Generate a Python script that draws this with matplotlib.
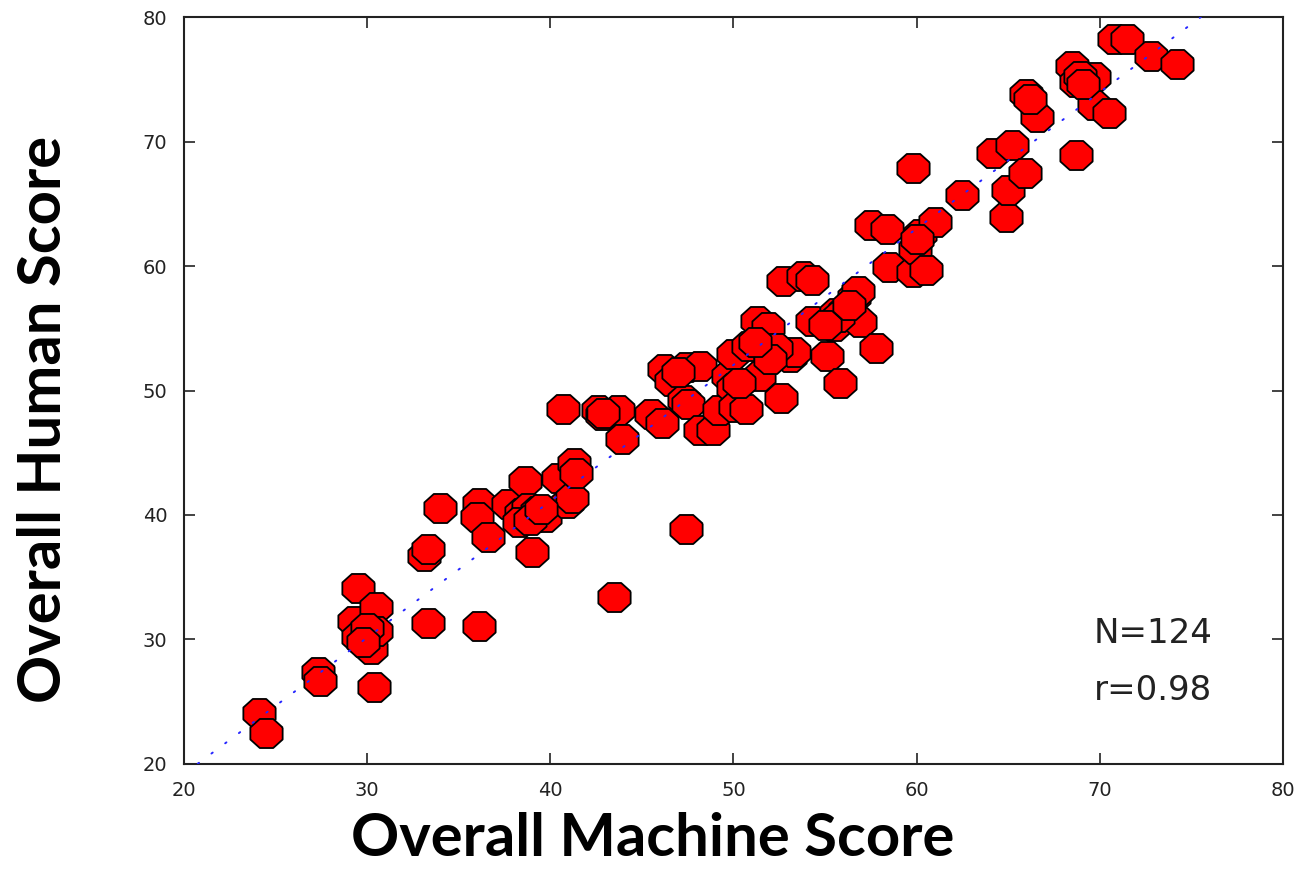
import numpy as np
import matplotlib
matplotlib.use("Agg")
import matplotlib.pyplot as plt

machine_score = [
    24.1, 24.5, 27.3, 27.4, 29.5, 29.3, 29.5, 30.2, 30.5, 30.5,
    30.4, 33.1, 33.3, 33.3, 34.0, 36.1, 36.1, 36.0, 36.6, 37.7,
    38.6, 39.0, 38.4, 38.8, 39.1, 39.7, 38.3, 40.7, 40.4, 40.9,
    41.2, 41.3, 41.4, 42.6, 42.8, 43.7, 43.9, 43.5, 45.5, 46.1,
    46.2, 46.6, 47.4, 47.3, 47.5, 48.2, 47.4, 48.2, 48.9, 49.2,
    49.7, 50.0, 50.0, 50.1, 50.7, 50.8, 51.3, 51.4, 51.6, 51.9,
    52.0, 52.6, 52.7, 53.1, 53.3, 53.8, 54.3, 54.3, 55.1, 55.3,
    55.6, 55.8, 55.5, 56.1, 56.6, 56.8, 56.9, 57.8, 57.5, 58.4,
    58.5, 59.8, 59.8, 59.9, 60.2, 60.5, 61.0, 62.5, 64.2, 64.9,
    65.2, 65.0, 65.9, 66.0, 66.6, 68.5, 68.7, 68.7, 69.4, 69.7,
    69.7, 70.5, 70.8, 71.5, 72.8, 74.2, 39.3, 38.9, 39.5, 52.3,
    52.0, 51.2, 55.7, 55.0, 56.3, 68.9, 69.1, 47.0, 42.9, 30.0,
    29.8, 60.0, 50.3, 66.2,
]
human_score = [
    24.1, 22.5, 27.4, 26.7, 34.1, 31.5, 30.2, 29.2, 32.6, 30.7,
    26.2, 36.7, 37.3, 31.3, 40.6, 31.1, 41.0, 39.8, 38.2, 40.9,
    42.7, 37.0, 40.2, 40.6, 39.8, 39.8, 39.4, 48.5, 43.0, 41.0,
    41.4, 44.2, 43.4, 48.4, 48.0, 48.4, 46.1, 33.4, 48.1, 47.4,
    51.7, 50.8, 51.9, 49.2, 48.9, 52.0, 38.9, 46.8, 46.8, 48.4,
    51.2, 52.9, 50.2, 48.7, 48.5, 53.6, 55.6, 51.2, 54.1, 55.1,
    53.0, 49.4, 58.8, 52.7, 53.1, 59.2, 58.9, 55.6, 52.8, 55.6,
    56.2, 50.6, 55.2, 56.5, 57.5, 58.0, 55.5, 53.4, 63.3, 63.0,
    59.9, 67.9, 59.5, 61.4, 62.6, 59.7, 63.5, 65.7, 69.1, 63.9,
    69.7, 66.1, 67.5, 73.8, 72.0, 76.1, 68.9, 74.8, 75.0, 75.2,
    72.9, 72.3, 78.2, 78.2, 76.9, 76.2, 40.3, 39.6, 40.5, 53.4,
    52.5, 53.9, 55.9, 55.3, 56.9, 75.3, 74.6, 51.5, 48.2, 30.9,
    29.8, 62.2, 50.6, 73.4,
]
fit_x = [20.0, 80.0]
fit_y = [19.2, 84.9]
x_ticks = [20, 30, 40, 50, 60, 70, 80]
y_ticks = [20, 30, 40, 50, 60, 70, 80]
stats_text = ["N=124", "r=0.98"]

fig = plt.figure(figsize=(13.05, 8.82), dpi=100)
ax = fig.add_axes([0.141, 0.1338, 0.842, 0.8469])

ang = np.deg2rad(22.5 + 45 * np.arange(8))
verts = np.column_stack([np.cos(ang), 0.9 * np.sin(ang)])
verts = np.vstack([verts, verts[:1]])

ax.plot(fit_x, fit_y, color=(0.15, 0.15, 1.0), lw=1.4,
        linestyle=(0, (0.8, 8.0)), zorder=3,
        dash_capstyle="round")
ax.scatter(machine_score, human_score, marker=verts, s=540,
           facecolor="#ff0000", edgecolor="black", linewidths=1.3, zorder=2)

ax.set_xlim(20, 80)
ax.set_ylim(20, 80)
ax.set_xticks(x_ticks)
ax.set_yticks(y_ticks)
ax.tick_params(direction="in", length=8, width=1.2, top=True, right=True,
               labelsize=14, labelcolor="#222222", color="#222222")
ax.tick_params(axis="x", pad=12)
ax.tick_params(axis="y", pad=12)
for s in ax.spines.values():
    s.set_linewidth(1.5)
    s.set_color("#222222")

ax.text(69.67, 29.7, stats_text[0], fontsize=24.5, color="#222222", va="baseline")
ax.text(69.67, 25.1, stats_text[1], fontsize=24.5, color="#222222", va="baseline")

fig.text(0.5, 0.03, "Overall Machine Score", fontsize=43, fontweight="bold",
         family=["Lato", "DejaVu Sans"], ha="center", va="baseline")
fig.text(0.034, 0.524, "Overall Human Score", fontsize=43, fontweight="bold",
         family=["Lato", "DejaVu Sans"], ha="center", va="center", rotation=90)

fig.savefig("out.png", dpi=100)
